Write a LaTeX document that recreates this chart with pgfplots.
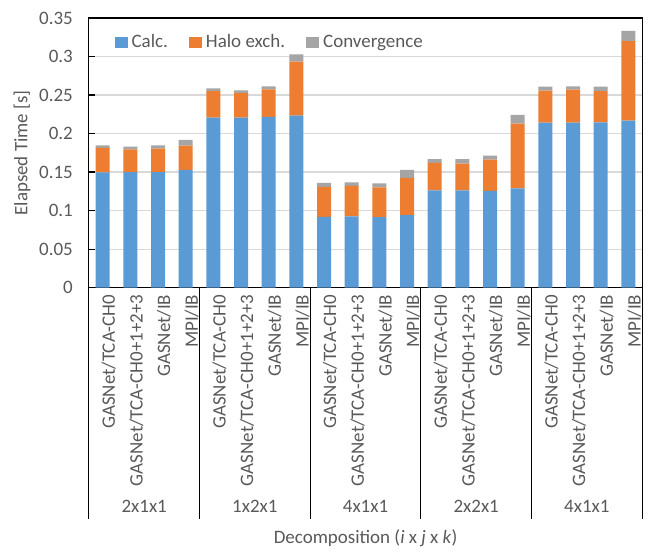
\documentclass[border=0pt]{standalone}
\usepackage{fontspec}
\setmainfont{Carlito}
\usepackage{pgfplots}
\usepackage{pgfplotstable}
\pgfplotsset{compat=1.18}
\definecolor{cCalc}{HTML}{5B9BD5}
\definecolor{cHalo}{HTML}{ED7D31}
\definecolor{cConv}{HTML}{A5A5A5}
\definecolor{txt}{HTML}{595959}
\definecolor{gridc}{HTML}{D9D9D9}
\pgfplotstableread{
x calc halo conv
0 0.1495 0.0318 0.0035
1 0.1500 0.0294 0.0038
2 0.1500 0.0305 0.0043
3 0.1530 0.0315 0.0073
4 0.2207 0.0345 0.0035
5 0.2207 0.0319 0.0035
6 0.2215 0.0359 0.0039
7 0.2233 0.0700 0.0094
8 0.0920 0.0388 0.0052
9 0.0925 0.0396 0.0044
10 0.0916 0.0384 0.0052
11 0.0942 0.0483 0.0104
12 0.1261 0.0358 0.0048
13 0.1261 0.0349 0.0057
14 0.1257 0.0406 0.0052
15 0.1287 0.0842 0.0112
16 0.2142 0.0414 0.0052
17 0.2142 0.0427 0.0043
18 0.2146 0.0406 0.0056
19 0.2168 0.1032 0.0134
}\datatable
\begin{document}
\begin{tikzpicture}[font=\fontsize{9.5}{11}\selectfont]
\begin{axis}[
  name=ax,
  scale only axis,
  width=277pt, height=135pt,
  ybar stacked, bar width=7pt,
  xmin=-0.5, xmax=19.5,
  ymin=0, ymax=0.35,
  ytick={0,0.05,0.1,0.15,0.2,0.25,0.3,0.35},
  scaled y ticks=false,
  yticklabel style={/pgf/number format/fixed, /pgf/number format/precision=2, /pgf/number format/assume math mode=true, text=txt, xshift=-4.5pt},
  ytick pos=left, tick align=inside,
  major tick length=3.3pt,
  xtick={0,...,19},
  xticklabels={GASNet/TCA-CH0,GASNet/TCA-CH0+1+2+3,GASNet/IB,MPI/IB,
    GASNet/TCA-CH0,GASNet/TCA-CH0+1+2+3,GASNet/IB,MPI/IB,
    GASNet/TCA-CH0,GASNet/TCA-CH0+1+2+3,GASNet/IB,MPI/IB,
    GASNet/TCA-CH0,GASNet/TCA-CH0+1+2+3,GASNet/IB,MPI/IB,
    GASNet/TCA-CH0,GASNet/TCA-CH0+1+2+3,GASNet/IB,MPI/IB},
  xticklabel style={rotate=90, anchor=east, text=txt, yshift=-3pt},
  x tick style={draw=none},
  ymajorgrids, grid style={gridc, line width=0.6pt},
  axis line style={black, line width=0.6pt},
  y tick style={black, line width=0.6pt},
  ylabel={Elapsed Time [s]},
  ylabel style={at={(axis description cs:-0.121,0.5)}, anchor=center, text=txt},
  clip=false,
  legend columns=3,
  legend style={at={(axis description cs:0.035,0.97)}, anchor=north west, draw=none, fill=none, text=txt,
    /tikz/every even column/.append style={column sep=8.5pt}},
  legend image code/.code={\path[#1, draw=none] (0pt,-2.75pt) rectangle (6.5pt,2.75pt);},
]
\addplot[fill=cCalc, draw=none] table[x=x, y=calc] {\datatable};
\addplot[fill=cHalo, draw=none] table[x=x, y=halo] {\datatable};
\addplot[fill=cConv, draw=none] table[x=x, y=conv] {\datatable};
\legend{Calc.,Halo exch.,Convergence}
\foreach \s in {-0.5,3.5,7.5,11.5,15.5,19.5}{
  \edef\tmp{\noexpand\draw[black, line width=0.6pt] (axis cs:\s,0) -- ([yshift=-116pt]axis cs:\s,0);}\tmp
}
\node[text=txt] at (axis cs:1.5,0) [yshift=-109.5pt] {2x1x1};
\node[text=txt] at (axis cs:5.5,0) [yshift=-109.5pt] {1x2x1};
\node[text=txt] at (axis cs:9.5,0) [yshift=-109.5pt] {4x1x1};
\node[text=txt] at (axis cs:13.5,0) [yshift=-109.5pt] {2x2x1};
\node[text=txt] at (axis cs:17.5,0) [yshift=-109.5pt] {4x1x1};
\node[text=txt] at (axis cs:9.5,0) [yshift=-125.5pt] {Decomposition (\textit{i} x \textit{j} x \textit{k})};
\end{axis}
\path[use as bounding box] ([xshift=-44.5pt,yshift=-129pt]ax.south west) rectangle ([xshift=2.5pt,yshift=9pt]ax.north east);
\end{tikzpicture}
\end{document}
